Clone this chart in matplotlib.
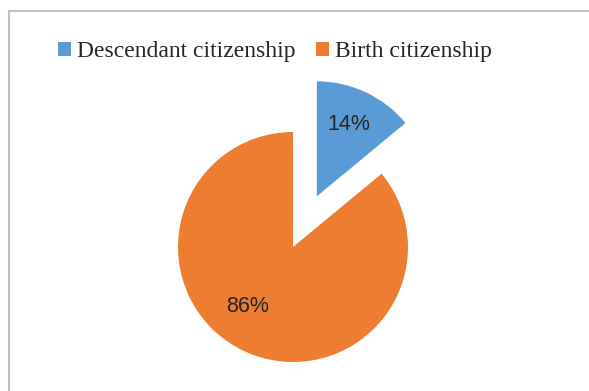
import matplotlib
matplotlib.use('Agg')
import matplotlib.pyplot as plt
from matplotlib.patches import Rectangle

# data
labels = ['Descendant citizenship', 'Birth citizenship']
shares = [14, 86]
colors = ['#5B9BD5', '#ED7D31']

W, H = 589, 391
fig = plt.figure(figsize=(W / 100, H / 100), dpi=100)
ax = fig.add_axes([0, 0, 1, 1])

# chart border (light gray frame, runs off right/bottom edge)
fig.patches.append(Rectangle((9 / W, -0.05), 1.1, (H - 11) / H + 0.05,
                             transform=fig.transFigure, fill=False,
                             edgecolor='#BFBFBF', linewidth=1.5))

r = 115
# explode is in data units here (radius is not 1)
wedges, _ = ax.pie(shares, colors=colors, startangle=90, counterclock=False,
                   center=(293, H - 247), radius=r, explode=[56, 0],
                   wedgeprops=dict(linewidth=0))
# pie() resets the limits, so set them afterwards
ax.set_xlim(0, W)
ax.set_ylim(0, H)
ax.set_aspect('equal')
ax.axis('off')

pct_font = dict(family=['Liberation Sans', 'DejaVu Sans'], fontsize=15.5, color='#262626',
                ha='center', va='center')
ax.text(349, H - 125, f'{shares[0]}%', **pct_font)
ax.text(248, H - 306, f'{shares[1]}%', **pct_font)

leg = ax.legend(wedges, labels, loc='center', bbox_to_anchor=(275 / W, 1 - 52 / H),
                bbox_transform=fig.transFigure, ncol=2, frameon=False,
                handlelength=0.55, handleheight=0.55, handletextpad=0.25,
                columnspacing=0.9,
                prop=dict(family='Liberation Serif', size=17))
for t in leg.get_texts():
    t.set_color('#262626')

fig.savefig('out.png', dpi=100)
